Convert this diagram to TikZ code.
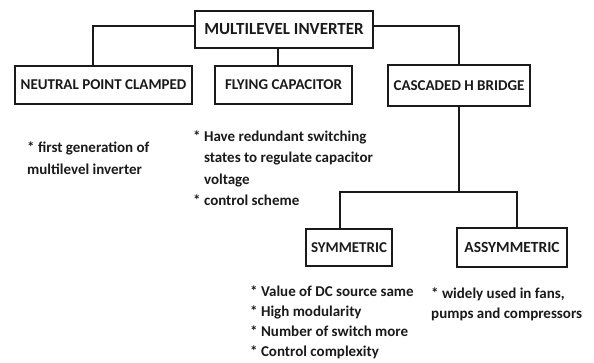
\documentclass[tikz,border=0pt]{standalone}
\usepackage{fontspec}
\setmainfont{Carlito}
\usetikzlibrary{positioning,calc}
\definecolor{inkline}{HTML}{1A1A1A}
\newcommand{\ind}{\hphantom{*~}}

\begin{document}
\begin{tikzpicture}[
  x=1pt, y=-1pt,
  font=\fontsize{15}{18}\selectfont\bfseries,
  box/.style={draw=inkline, line width=1.5pt, fill=white, inner sep=0pt,
              align=center, text=inkline},
  note/.style={anchor=north west, inner sep=0pt, align=left, text=inkline},
  arr/.style={draw=inkline, line width=1.5pt},
]
\useasboundingbox (0,0) rectangle (594,362);

% ---- top ----
\node[box, minimum width=178pt, minimum height=37pt, font=\fontsize{17}{20}\selectfont\bfseries](mi)
  at (284,29.5) {MULTILEVEL INVERTER};

% ---- first level ----
\node[box, minimum width=177pt, minimum height=38pt](npc)  at (103.5,85)  {NEUTRAL POINT CLAMPED};
\node[box, minimum width=137pt, minimum height=38pt](fc)   at (283.5,85)  {FLYING CAPACITOR};
\node[box, minimum width=142pt, minimum height=41pt](chb)  at (459,85.5)  {CASCADED H BRIDGE};

% ---- second level ----
\node[box, minimum width=86pt,  minimum height=37pt](sym)  at (349,247.5) {SYMMETRIC};
\node[box, minimum width=110pt, minimum height=39pt, font=\fontsize{15.5}{18}\selectfont\bfseries](asym)
  at (512,247.5) {ASSYMMETRIC};

% ---- notes ----
\node[note, font=\fontsize{15}{22}\selectfont\bfseries](npcn) at (27,142)
  {* first generation of\\multilevel inverter};
\node[note, font=\fontsize{15}{21.5}\selectfont\bfseries](fcn) at (193,130.5)
  {* Have redundant switching\\\ind states to regulate capacitor\\\ind voltage\\* control scheme};
\node[note, font=\fontsize{15}{20}\selectfont\bfseries](symn) at (250,285.5)
  {* Value of DC source same\\* High modularity\\* Number of switch more\\* Control complexity};
\node[note, font=\fontsize{15}{20}\selectfont\bfseries](asymn) at (431,287.5)
  {* widely used in fans,\\pumps and compressors};

% ---- connectors ----
\coordinate (jl) at (93,26);
\coordinate (jr) at (459,26);
\coordinate (jm) at (278,48);
\coordinate (jb) at (459,192);
\coordinate (js) at (340,192);
\coordinate (ja) at (517,192);
\draw[arr] (mi.west |- jl) -- (jl) -- (jl |- npc.north);
\draw[arr] (mi.east |- jr) -- (jr) -- (chb.north);
\draw[arr] (jm) -- (jm |- fc.north);
\draw[arr] (chb.south) -- (jb);
\draw[arr] (js |- sym.north) -- (js) -- (ja) -- (ja |- asym.north);

\end{tikzpicture}
\end{document}
